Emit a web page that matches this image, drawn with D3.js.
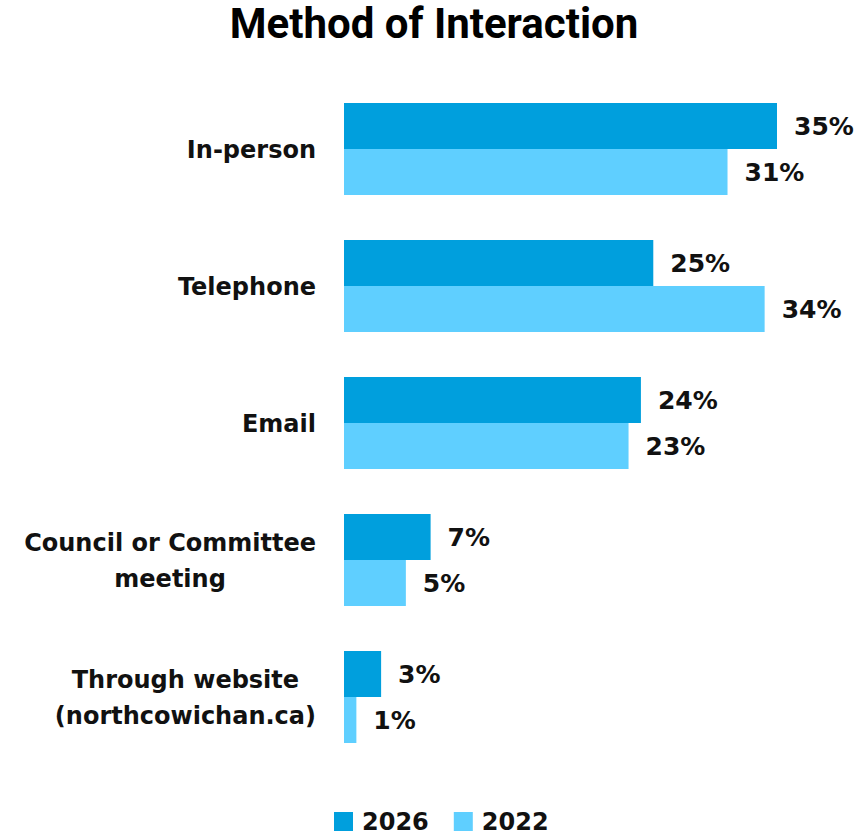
<!DOCTYPE html>
<html>
<head>
<meta charset="utf-8">
<script src="https://cdn.jsdelivr.net/npm/d3@7"></script>
<style>
  html, body { margin: 0; padding: 0; background: #fff; }
  svg { display: block; }
</style>
</head>
<body>
<svg id="chart" width="856" height="835"></svg>
<script>
// Survey results: method of interaction, 2026 vs 2022 (percent)
const categories = [
  ["In-person"],
  ["Telephone"],
  ["Email"],
  ["Council or Committee", "meeting"],
  ["Through website", "(northcowichan.ca)"]
];
const series = ["2026", "2022"];
const values2026 = [35, 25, 24, 7, 3];
const values2022 = [31, 34, 23, 5, 1];
const colors = ["#009FDD", "#5FCFFF"];
const title = "Method of Interaction";

const svg = d3.select("#chart");
const plot = { left: 344, right: 777, top: 103, bottom: 743 };

const x = d3.scaleLinear().domain([0, 35]).range([plot.left, plot.right]);
const y = d3.scaleBand()
  .domain(d3.range(categories.length))
  .range([plot.top, plot.bottom])
  .paddingInner(45 / 137)
  .paddingOuter(0);
const sub = d3.scaleBand().domain(series).range([0, y.bandwidth()]);

const labelFont = "'DejaVu Sans', Verdana, sans-serif";

// Title
svg.append("text")
  .attr("x", 434).attr("y", 38)
  .attr("text-anchor", "middle")
  .style("font-family", "Roboto, 'DejaVu Sans', sans-serif")
  .style("font-weight", 700)
  .style("font-size", "42px")
  .attr("fill", "#000")
  .text(title);

const data = categories.map((c, i) => ({ i, lines: c, vals: [values2026[i], values2022[i]] }));

const g = svg.selectAll("g.cat").data(data).join("g")
  .attr("class", "cat")
  .attr("transform", d => `translate(0,${y(d.i)})`);

g.selectAll("rect").data(d => d.vals.map((v, k) => ({ v, k }))).join("rect")
  .attr("x", x(0))
  .attr("y", d => sub(series[d.k]))
  .attr("width", d => x(d.v) - x(0))
  .attr("height", sub.bandwidth())
  .attr("fill", d => colors[d.k]);

g.selectAll("text.val").data(d => d.vals.map((v, k) => ({ v, k }))).join("text")
  .attr("class", "val")
  .attr("x", d => x(d.v) + 17)
  .attr("y", d => sub(series[d.k]) + sub.bandwidth() / 2)
  .attr("dy", "0.36em")
  .style("font-family", labelFont)
  .style("font-weight", 700)
  .style("font-size", "25px")
  .attr("fill", "#111")
  .text(d => d.v + "%");

// Category labels: lines centred on each other, block right-aligned to the bars
g.each(function(d) {
  const grp = d3.select(this);
  const lineH = 36;
  const t = grp.append("text")
    .style("font-family", labelFont)
    .style("font-weight", 700)
    .style("font-size", "24px")
    .attr("fill", "#111");
  const n = d.lines.length;
  const tspans = d.lines.map((ln, j) => t.append("tspan")
    .attr("y", y.bandwidth() / 2 + (j - (n - 1) / 2) * lineH)
    .attr("dy", "0.36em")
    .text(ln));
  const widths = tspans.map(s => s.node().getComputedTextLength());
  const maxW = d3.max(widths);
  const cx = 316 - maxW / 2;
  tspans.forEach(s => s.attr("x", cx).attr("text-anchor", "middle"));
});

// Legend
const legend = svg.append("g").attr("transform", "translate(334,812)");
let lx = 0;
series.forEach((s, k) => {
  legend.append("rect").attr("x", lx).attr("y", 0).attr("width", 19).attr("height", 19).attr("fill", colors[k]);
  const t = legend.append("text")
    .attr("x", lx + 28).attr("y", 9.5).attr("dy", "0.36em")
    .style("font-family", labelFont)
    .style("font-weight", 700)
    .style("font-size", "24px")
    .attr("fill", "#111")
    .text(s);
  lx += 28 + t.node().getComputedTextLength() + 25;
});
</script>
</body>
</html>
